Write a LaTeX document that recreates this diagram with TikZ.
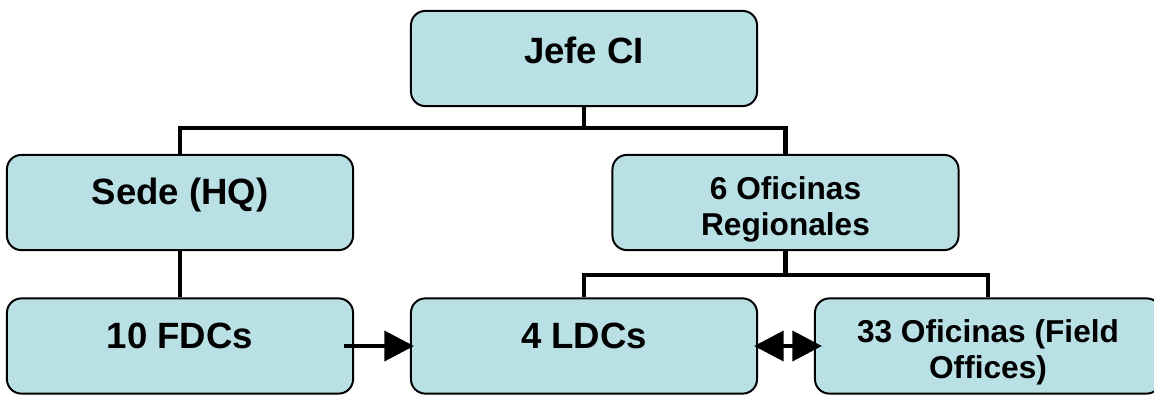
\documentclass[tikz,border=0pt]{standalone}
\usepackage{fontspec}
\setmainfont{Liberation Sans}
\usetikzlibrary{arrows.meta,positioning,calc}
\definecolor{boxfill}{RGB}{185,224,228}
\begin{document}
\begin{tikzpicture}[x=0.025cm,y=-0.025cm,>={Triangle[length=21pt,width=21pt]},
  box/.style={draw=black,line width=1.4pt,fill=boxfill,rounded corners=0.36cm,minimum width=8.65cm,minimum height=2.38cm,inner sep=0pt},
  big/.style={font=\fontsize{26}{30}\selectfont\bfseries,inner sep=0pt,anchor=base},
  small/.style={font=\fontsize{22.5}{25.5}\selectfont\bfseries,inner sep=0pt,align=center},
  conn/.style={line width=3.5pt},
  flow/.style={line width=3.5pt}]
\useasboundingbox (0,0) rectangle (1154,394);
\clip (0,0) rectangle (1154,394);
\node[box] (jefe) at (584,58.5) {};
\node[box] (sede) at (180,202.5) {};
\node[box] (regional) at (785.5,202.5) {};
\node[box] (fdc) at (180,346) {};
\node[box] (ldc) at (584,346) {};
\node[box] (field) at (988,346) {};
\node[big] (jefeT) at (584,63) {Jefe CI};
\node[big] (sedeT) at (180,204) {Sede (HQ)};
\node[big] (fdcT) at (180,348) {10 FDCs};
\node[big] (ldcT) at (584,348) {4 LDCs};
\node[small] (regionalT) at (785.5,209) {6 Oficinas\\Regionales};
\node[small] (fieldT) at (988,352) {33 Oficinas (Field\\Offices)};
\coordinate (top) at (584,128);
\coordinate (mid) at (785.5,275);
\draw[conn] (jefe.south) -- (top);
\draw[conn] (sede.north) |- (top) -| (regional.north);
\draw[conn] (sede.south) -- (fdc.north);
\draw[conn] (regional.south) -- (mid);
\draw[conn] (ldc.north) |- (mid) -| (field.north);
\draw[flow,->] ([xshift=-0.25cm]fdc.east) -- ([xshift=0.1cm]ldc.west);
\draw[flow,<->] ([xshift=-0.1cm]ldc.east) -- ([xshift=0.2cm]field.west);
\end{tikzpicture}
\end{document}
